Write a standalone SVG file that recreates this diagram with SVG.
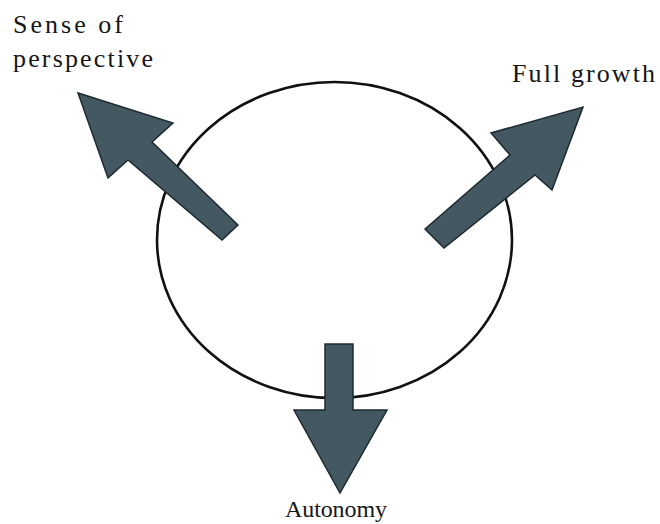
<svg xmlns="http://www.w3.org/2000/svg" width="660" height="524" viewBox="0 0 660 524">
<style>
  .lbl { font-family: "Liberation Serif", "Times New Roman", Times, serif; fill: #161616; }
  .arrow { fill: #435860; stroke: #1d2a30; stroke-width: 1.5; stroke-linejoin: miter; }
  .ring { fill: none; stroke: #111; stroke-width: 2.6; }
</style>
<rect width="660" height="524" fill="#ffffff"/>
<g id="circle">
  <ellipse class="ring" cx="334.5" cy="240" rx="177.5" ry="158"/>
</g>
<g id="connectors">
  <polygon class="arrow" points="238,225 152,142 173,123 78,93 108,178 128,160 222,240"/>
  <polygon class="arrow" points="425,229 510,155 491,133 583,107 552,190 535,175 444,248"/>
  <polygon class="arrow" points="325,344 353,344 353,410 387,410 340,493 294,410 325,410"/>
</g>
<g id="sense-of-perspective">
  <text class="lbl" x="13" y="33" font-size="26" textLength="110" lengthAdjust="spacing">Sense of</text>
  <text class="lbl" x="13" y="67" font-size="26" textLength="140" lengthAdjust="spacing">perspective</text>
</g>
<g id="full-growth">
  <text class="lbl" x="512" y="82" font-size="26" textLength="143" lengthAdjust="spacing">Full growth</text>
</g>
<g id="autonomy">
  <text class="lbl" x="285" y="517" font-size="24" textLength="102" lengthAdjust="spacing">Autonomy</text>
</g>
</svg>
